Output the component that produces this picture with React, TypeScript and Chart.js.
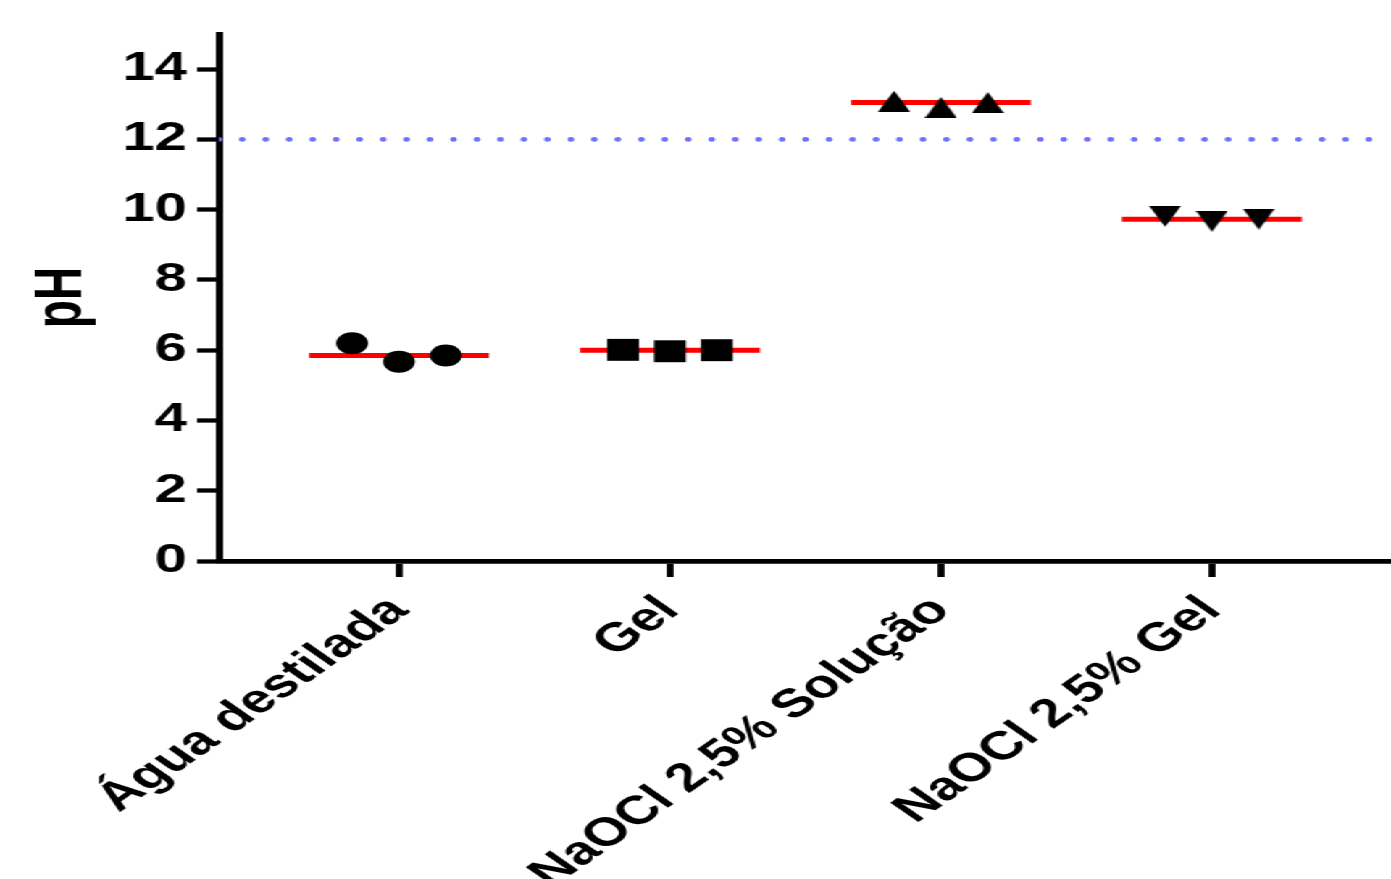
import React, { useEffect, useRef } from "react";
import { Chart, registerables } from "chart.js";

Chart.register(...registerables);

// ---------- data ----------
const CATEGORIES = ["Água destilada", "Gel", "NaOCl 2,5% Solução", "NaOCl 2,5% Gel"];
const AGUA_DESTILADA = [6.2, 5.67, 5.85];
const GEL = [6.01, 5.97, 6.0];
const NAOCL_SOLUCAO = [13.09, 12.91, 13.05];
const NAOCL_GEL = [9.81, 9.67, 9.73];
const REPLICATE_OFFSETS = [-0.173, 0, 0.173];
const REFERENCE_PH = 12;
const Y_TICKS = [0, 2, 4, 6, 8, 10, 12, 14];
const Y_MIN = 0;
const Y_MAX = 15;
const X_MIN = 0.335;
const X_MAX = 4.661;
const MEDIAN_HALF_WIDTH = 0.332;

const GROUPS = [AGUA_DESTILADA, GEL, NAOCL_SOLUCAO, NAOCL_GEL];

// ---------- layout ----------
const CANVAS_W = 960;
const CANVAS_H = 879;
const STRETCH = 1391 / CANVAS_W;
const FONT = "'Liberation Sans', Arial, Helvetica, sans-serif";

function median(values: number[]): number {
  const s = [...values].sort((a, b) => a - b);
  const m = Math.floor(s.length / 2);
  return s.length % 2 ? s[m] : (s[m - 1] + s[m]) / 2;
}

function triangleCanvas(up: boolean): HTMLCanvasElement {
  const w = 22;
  const h = 21;
  const c = document.createElement("canvas");
  c.width = w;
  c.height = h;
  const ctx = c.getContext("2d")!;
  ctx.fillStyle = "#000";
  ctx.beginPath();
  if (up) {
    ctx.moveTo(w / 2, 0);
    ctx.lineTo(w, h);
    ctx.lineTo(0, h);
  } else {
    ctx.moveTo(0, 0);
    ctx.lineTo(w, 0);
    ctx.lineTo(w / 2, h);
  }
  ctx.closePath();
  ctx.fill();
  return c;
}

export default function App() {
  const canvasRef = useRef<HTMLCanvasElement | null>(null);

  useEffect(() => {
    const canvas = canvasRef.current;
    if (!canvas) return;

    const pointStyles: any[] = ["circle", "rect", triangleCanvas(true), triangleCanvas(false)];
    const pointRadii = [11, 15.5, 11, 11];

    const pointDatasets = GROUPS.map((vals, gi) => ({
      type: "scatter" as const,
      label: CATEGORIES[gi],
      data: vals.map((v, i) => ({ x: gi + 1 + REPLICATE_OFFSETS[i], y: v })),
      pointStyle: pointStyles[gi],
      pointRadius: pointRadii[gi],
      pointHoverRadius: pointRadii[gi],
      backgroundColor: "#000",
      borderColor: "#000",
      borderWidth: 0,
      showLine: false,
      order: 0,
    }));

    const medianDatasets = GROUPS.map((vals, gi) => {
      const m = median(vals);
      return {
        type: "line" as const,
        label: "median " + CATEGORIES[gi],
        data: [
          { x: gi + 1 - MEDIAN_HALF_WIDTH, y: m },
          { x: gi + 1 + MEDIAN_HALF_WIDTH, y: m },
        ],
        borderColor: "#ff0000",
        borderWidth: 5,
        pointRadius: 0,
        fill: false,
        order: 1,
      };
    });

    const referenceDataset = {
      type: "line" as const,
      label: "pH 12",
      data: [
        { x: X_MIN, y: REFERENCE_PH },
        { x: X_MAX, y: REFERENCE_PH },
      ],
      borderColor: "#7070ff",
      borderWidth: 4.8,
      borderDash: [0, 16.2],
      borderCapStyle: "round" as const,
      pointRadius: 0,
      fill: false,
      order: 2,
    };

    const chart = new Chart(canvas, {
      type: "scatter",
      data: { datasets: [...pointDatasets, ...medianDatasets, referenceDataset] as any },
      options: {
        animation: false,
        responsive: false,
        devicePixelRatio: 1,
        layout: { autoPadding: false, padding: { top: 34, right: 0, bottom: 0, left: 0 } },
        plugins: { legend: { display: false }, tooltip: { enabled: false } },
        scales: {
          x: {
            type: "linear",
            min: X_MIN,
            max: X_MAX,
            afterBuildTicks: (scale: any) => {
              scale.ticks = CATEGORIES.map((_, i) => ({ value: i + 1 }));
            },
            afterFit: (scale: any) => {
              scale.height = CANVAS_H - 561;
              scale.paddingLeft = 0;
              scale.paddingRight = 0;
            },
            ticks: {
              autoSkip: false,
              minRotation: 45,
              maxRotation: 45,
              padding: 10,
              color: "#000",
              font: { family: FONT, size: 40, weight: "bold" },
              callback: (v: any) => CATEGORIES[Math.round(Number(v)) - 1] ?? "",
            },
            grid: {
              display: true,
              drawOnChartArea: false,
              drawTicks: true,
              tickLength: 16,
              tickWidth: 4.8,
              tickColor: "#000",
            },
            border: { display: true, color: "#000", width: 4.8 },
          },
          y: {
            type: "linear",
            min: Y_MIN,
            max: Y_MAX,
            afterBuildTicks: (scale: any) => {
              scale.ticks = Y_TICKS.map((v) => ({ value: v }));
            },
            afterFit: (scale: any) => {
              scale.width = 151;
            },
            ticks: {
              padding: 7,
              color: "#000",
              font: { family: FONT, size: 40, weight: "bold" },
            },
            grid: {
              display: true,
              drawOnChartArea: false,
              drawTicks: true,
              tickLength: 15,
              tickWidth: 4.3,
              tickColor: "#000",
            },
            border: { display: true, color: "#000", width: 5 },
            title: {
              display: true,
              text: "pH",
              color: "#000",
              font: { family: FONT, size: 46, weight: "bold" },
              padding: { top: 16, bottom: 0 },
            },
          },
        },
      },
    });

    return () => chart.destroy();
  }, []);

  return (
    <div
      style={{
        position: "fixed",
        left: 0,
        top: 0,
        width: CANVAS_W,
        height: CANVAS_H,
        transform: `scaleX(${STRETCH})`,
        transformOrigin: "0 0",
        background: "#fff",
      }}
    >
      <canvas ref={canvasRef} width={CANVAS_W} height={CANVAS_H} style={{ display: "block" }} />
    </div>
  );
}
